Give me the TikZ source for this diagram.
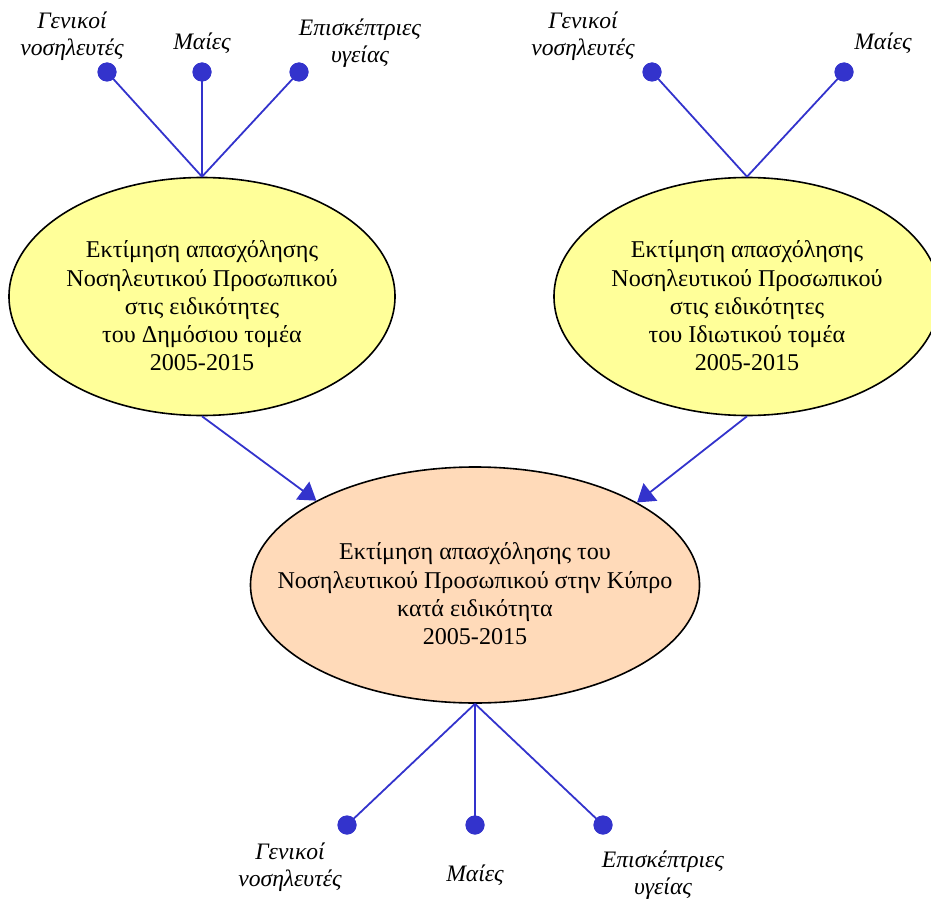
\documentclass[tikz,border=0pt]{standalone}
\usepackage{fontspec}
\setmainfont{Liberation Serif}
\usetikzlibrary{shapes.geometric,arrows.meta}
\definecolor{lineblue}{HTML}{3333CC}
\definecolor{ellyellow}{HTML}{FFFF99}
\definecolor{ellpeach}{HTML}{FFDAB9}
\tikzset{
  bigell/.style={ellipse, draw=black, line width=1.6pt, inner sep=0pt},
  yell/.style={bigell, fill=ellyellow, minimum width=386pt, minimum height=238pt},
  pell/.style={bigell, fill=ellpeach, minimum width=449pt, minimum height=236pt},
  elltext/.style={align=center, font=\fontsize{24.1}{28.3}\selectfont},
  dot/.style={circle, fill=lineblue, minimum size=19pt, inner sep=0pt},
  lab/.style={align=center, font=\itshape\fontsize{23.6}{27.5}\selectfont},
  spoke/.style={draw=lineblue, line width=1.8pt},
  feed/.style={draw=lineblue, line width=1.8pt, -{Triangle[length=17pt,width=22pt]}}
}
\begin{document}
\begin{tikzpicture}[x=1pt,y=-1pt]
\useasboundingbox (0,0) rectangle (931,904);
% ellipses
\node[yell] (L) at (202,296.5) {};
\node[yell] (R) at (747,296.5) {};
\node[pell] (B) at (475,585) {};
\node[elltext] (Lt) at (202,306) {Εκτίμηση απασχόλησης\\Νοσηλευτικού Προσωπικού\\στις ειδικότητες\\του Δημόσιου τομέα\\2005-2015};
\node[elltext] (Rt) at (747,306) {Εκτίμηση απασχόλησης\\Νοσηλευτικού Προσωπικού\\στις ειδικότητες\\του Ιδιωτικού τομέα\\2005-2015};
\node[elltext] (Bt) at (475,594) {Εκτίμηση απασχόλησης του\\Νοσηλευτικού Προσωπικού στην Κύπρο\\κατά ειδικότητα\\2005-2015};
% dots
\node[dot] (L1) at (107,72) {};
\node[dot] (L2) at (202,72) {};
\node[dot] (L3) at (299,72) {};
\node[dot] (R1) at (652,72) {};
\node[dot] (R2) at (844,72) {};
\node[dot] (B1) at (347,825) {};
\node[dot] (B2) at (475,825) {};
\node[dot] (B3) at (603,825) {};
% spokes
\foreach \d in {L1,L2,L3} \draw[spoke] (L.north) -- (\d.center);
\foreach \d in {R1,R2} \draw[spoke] (R.north) -- (\d.center);
\foreach \d in {B1,B2,B3} \draw[spoke] (B.south) -- (\d.center);
\foreach \d in {L1,L2,L3,R1,R2,B1,B2,B3} \node[dot] at (\d) {};
% arrows
\draw[feed] (L.south) -- (B.152);
\draw[feed] (R.south) -- (B.27);
% labels
\node[lab] (tL1) at (72,36) {Γενικοί\\νοσηλευτές};
\node[lab, anchor=base] (tL2) at (202,50) {Μαίες};
\node[lab] (tL3) at (360,43) {Επισκέπτριες\\υγείας};
\node[lab] (tR1) at (583,36) {Γενικοί\\νοσηλευτές};
\node[lab, anchor=base] (tR2) at (883,50) {Μαίες};
\node[lab] (tB1) at (290,867) {Γενικοί\\νοσηλευτές};
\node[lab, anchor=base] (tB2) at (475,881) {Μαίες};
\node[lab] (tB3) at (663,875) {Επισκέπτριες\\υγείας};
\end{tikzpicture}
\end{document}
